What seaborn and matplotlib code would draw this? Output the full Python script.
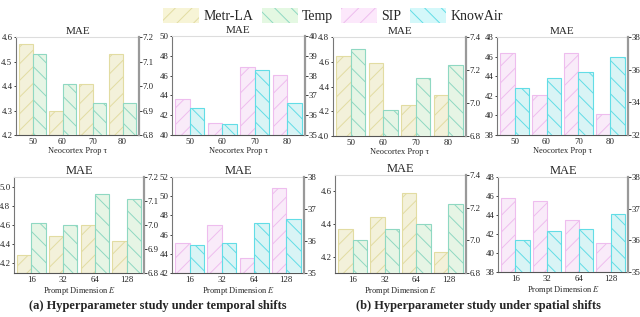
import pandas as pd
import matplotlib
matplotlib.use('Agg')
import matplotlib.pyplot as plt
import seaborn as sns
import numpy as np
from matplotlib.patches import Patch

series = ['Metr-LA', 'Temp', 'SIP', 'KnowAir']
fills = {'Metr-LA': '#f7f4d6', 'Temp': '#e4f8e2', 'SIP': '#fce8fb', 'KnowAir': '#d4f8fa'}
edges = {'Metr-LA': '#e2dca2', 'Temp': '#8fd8c2', 'SIP': '#eebdee', 'KnowAir': '#62dde6'}
hatches = {'Metr-LA': '//', 'Temp': '\\\\', 'SIP': '//', 'KnowAir': '\\\\'}

tau_labels = ['50', '60', '70', '80']
dim_labels = ['16', '32', '64', '128']

# (a) temporal shifts, Neocortex Prop
metr_tau_t = [4.57, 4.30, 4.41, 4.53]
temp_tau_t = [7.13, 7.01, 6.93, 6.93]
sip_tau_t = [43.6, 41.2, 46.9, 46.1]
know_tau_t = [36.37, 35.55, 38.29, 36.64]
# (b) spatial shifts, Neocortex Prop
metr_tau_s = [4.65, 4.59, 4.25, 4.33]
temp_tau_s = [7.33, 6.96, 7.15, 7.23]
sip_tau_s = [46.4, 42.1, 46.4, 40.15]
know_tau_s = [34.9, 35.5, 35.85, 36.8]
# (a) temporal shifts, prompt dimension
metr_dim_t = [4.29, 4.49, 4.60, 4.43]
temp_dim_t = [7.01, 7.00, 7.13, 7.11]
sip_dim_t = [45.1, 47.0, 43.6, 50.9]
know_dim_t = [35.86, 35.94, 36.55, 36.69]
# (b) spatial shifts, prompt dimension
metr_dim_s = [4.37, 4.44, 4.59, 4.23]
temp_dim_s = [7.00, 7.07, 7.10, 7.22]
sip_dim_s = [45.8, 45.5, 43.5, 41.1]
know_dim_s = [36.0, 36.3, 36.35, 36.83]

sns.set_theme(style='white')
plt.rcParams['font.family'] = ['Liberation Serif', 'DejaVu Serif']
plt.rcParams['mathtext.fontset'] = 'stix'
plt.rcParams['hatch.linewidth'] = 0.7

W, H = 640, 317
fig = plt.figure(figsize=(6.4, 3.17), dpi=100)

# (pixel box, labels, left series, right series, left lim/ticks, right lim/ticks, fmt)
panels = [
    ((16, 139, 37, 135), tau_labels, ('Metr-LA', metr_tau_t), ('Temp', temp_tau_t),
     (4.2, 4.6), np.arange(4.2, 4.61, 0.1), (6.8, 7.2), np.arange(6.8, 7.21, 0.1), '%.1f', '%.1f'),
    ((172, 305, 36, 135), tau_labels, ('SIP', sip_tau_t), ('KnowAir', know_tau_t),
     (40, 50), np.arange(40, 51, 2), (35, 40), np.arange(35, 41, 1), '%d', '%d'),
    ((333, 466, 37, 136), tau_labels, ('Metr-LA', metr_tau_s), ('Temp', temp_tau_s),
     (4.0, 4.8), np.arange(4.0, 4.81, 0.2), (6.8, 7.4), np.arange(6.8, 7.41, 0.2), '%.1f', '%.1f'),
    ((497, 628, 37, 135), tau_labels, ('SIP', sip_tau_s), ('KnowAir', know_tau_s),
     (38, 48), np.arange(38, 49, 2), (32, 38), np.arange(32, 39, 2), '%d', '%d'),
    ((14, 144, 177, 273), dim_labels, ('Metr-LA', metr_dim_t), ('Temp', temp_dim_t),
     (4.1, 5.1), np.arange(4.2, 5.01, 0.2), (6.8, 7.2), np.arange(6.8, 7.21, 0.1), '%.1f', '%.1f'),
    ((172, 304, 177, 273), dim_labels, ('SIP', sip_dim_t), ('KnowAir', know_dim_t),
     (42, 52), np.arange(42, 53, 2), (35, 38), np.arange(35, 39, 1), '%d', '%d'),
    ((335, 466, 175, 273), dim_labels, ('Metr-LA', metr_dim_s), ('Temp', temp_dim_s),
     (4.1, 4.7), np.arange(4.2, 4.61, 0.2), (6.8, 7.4), np.arange(6.8, 7.41, 0.2), '%.1f', '%.1f'),
    ((498, 628, 177, 272), dim_labels, ('SIP', sip_dim_s), ('KnowAir', know_dim_s),
     (38, 48), np.arange(38, 49, 2), (35, 38), np.arange(35, 39, 1), '%d', '%d'),
]

for i, (box, labels, left, right, ylim1, yt1, ylim2, yt2, f1, f2) in enumerate(panels):
    x0, x1, y0, y1 = box
    ax = fig.add_axes([x0 / W, 1 - y1 / H, (x1 - x0) / W, (y1 - y0) / H])
    ax2 = ax.twinx()
    order = [left[0], right[0]]
    for a, (name, vals) in ((ax, left), (ax2, right)):
        df = pd.DataFrame({'x': labels, 'v': vals, 's': name})
        sns.barplot(data=df, x='x', y='v', hue='s', order=labels, hue_order=order,
                    palette=fills, ax=a, width=0.9, dodge=True, edgecolor=edges[name],
                    linewidth=0.8, hatch=hatches[name], legend=False, errorbar=None)
        a.set_xlabel('')
        a.set_ylabel('')
    ax.set_xlim(-0.55, 3.55)
    ax.set_ylim(*ylim1)
    ax.set_yticks(yt1)
    ax.set_yticklabels([f1 % t for t in yt1])
    ax2.set_ylim(*ylim2)
    ax2.set_yticks(yt2)
    ax2.set_yticklabels([f2 % t for t in yt2])
    for a in (ax, ax2):
        a.tick_params(labelsize=6.3, length=1.8, width=0.6, pad=0.8, colors='#222222')
    ax.tick_params(axis='x', length=0, pad=2)
    ax2.tick_params(axis='x', length=0)
    ax.spines['left'].set_color('#777777')
    ax.spines['bottom'].set_color('#555555')
    ax.spines['top'].set_color('#dddddd')
    ax.spines['right'].set_visible(False)
    for s in ('left', 'top', 'bottom'):
        ax2.spines[s].set_visible(False)
    ax2.spines['right'].set_color('#999999')
    ax2.spines['right'].set_linewidth(1.6)
    for s in ('left', 'bottom', 'top'):
        ax.spines[s].set_linewidth(0.8)
    top = i < 4
    ax.set_title('MAE', fontsize=8 if top else 9, pad=2.5)
    if top:
        ax.set_xlabel('Neocortex Prop τ', fontsize=6, labelpad=1)
    else:
        ax.set_xlabel('Prompt Dimension $E$', fontsize=6, labelpad=1)

handles = [Patch(facecolor=fills[s], edgecolor=edges[s], hatch=hatches[s], linewidth=0) for s in series]
fig.legend(handles, series, loc='upper center', bbox_to_anchor=(0.52, 1.015), ncol=4,
           frameon=False, fontsize=10, handlelength=2.6, handleheight=1.3,
           columnspacing=0.6, handletextpad=0.3)

fig.text(158 / W, 1 - 306 / H, '(a) Hyperparameter study under temporal shifts',
         ha='center', va='center', fontsize=9, fontweight='bold')
fig.text(478 / W, 1 - 306 / H, '(b) Hyperparameter study under spatial shifts',
         ha='center', va='center', fontsize=9, fontweight='bold')

fig.savefig('out.png', dpi=100)
